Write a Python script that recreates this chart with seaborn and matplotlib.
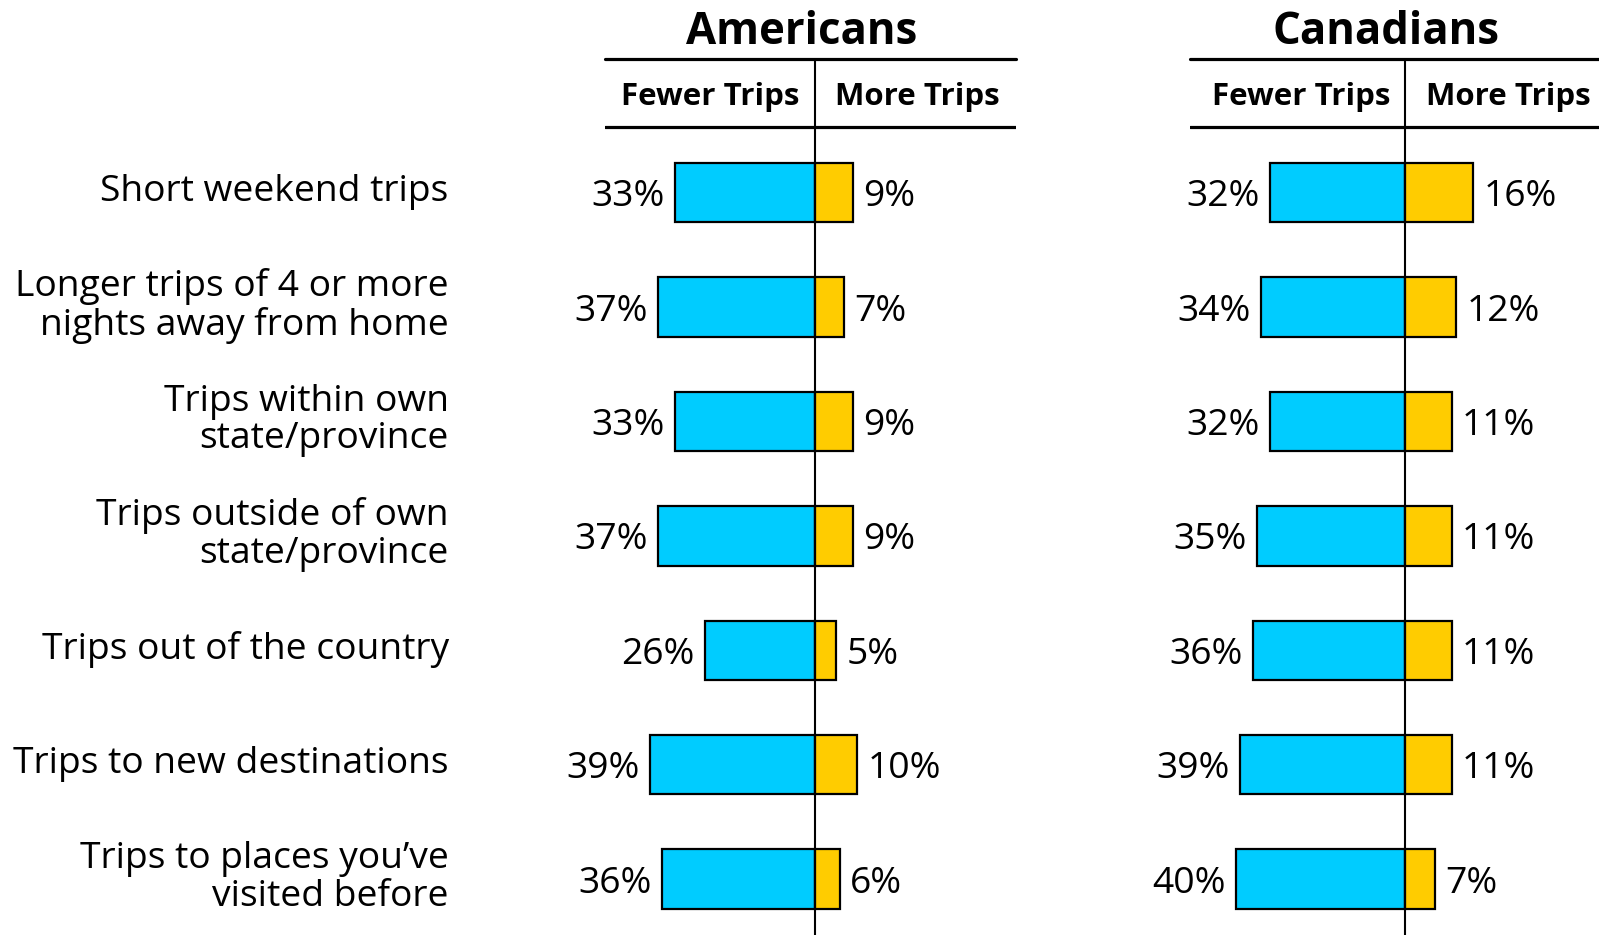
import pandas as pd
import matplotlib.pyplot as plt
import seaborn as sns

categories = [
    'Short weekend trips',
    'Longer trips of 4 or more\nnights away from home',
    'Trips within own\nstate/province',
    'Trips outside of own\nstate/province',
    'Trips out of the country',
    'Trips to new destinations',
    'Trips to places you\u2019ve\nvisited before',
]
us_fewer = [33, 37, 33, 37, 26, 39, 36]
us_more = [9, 7, 9, 9, 5, 10, 6]
ca_fewer = [32, 34, 32, 35, 36, 39, 40]
ca_more = [16, 12, 11, 11, 11, 11, 7]

panels = [('Americans', us_fewer, us_more), ('Canadians', ca_fewer, ca_more)]

CYAN = '#00CCFF'
GOLD = '#FFCC00'
FONT = 'Open Sans'

sns.set_style('white')
plt.rcParams['font.family'] = [FONT, 'DejaVu Sans']
plt.rcParams['text.color'] = 'black'

W, H = 1599, 935
fig = plt.figure(figsize=(W / 100, H / 100), dpi=100)

px_per_pct = 4.235
row_gap = 114.4
row0 = 192.7
top_px = 58.1
centers = [814.8, 1405.3]
spans = [(604.7, 1015.7), (1190.1, 1599.0)]

ylim_top = -(row0 - top_px) / row_gap
ylim_bot = (H - row0) / row_gap

for k, (name, fewer, more) in enumerate(panels):
    left_px, right_px = spans[k]
    ax = fig.add_axes([left_px / W, 0, (right_px - left_px) / W, (H - top_px) / H])
    xmin = (left_px - centers[k]) / px_per_pct
    xmax = (right_px - centers[k]) / px_per_pct

    df = pd.DataFrame({'cat': categories, 'fewer': [-v for v in fewer], 'more': more})
    sns.barplot(data=df, y='cat', x='fewer', color=CYAN, saturation=1, width=0.52,
                edgecolor='black', linewidth=1.6, ax=ax, orient='h')
    sns.barplot(data=df, y='cat', x='more', color=GOLD, saturation=1, width=0.52,
                edgecolor='black', linewidth=1.6, ax=ax, orient='h')

    ax.set_xlim(xmin, xmax)
    ax.set_ylim(ylim_bot, ylim_top)
    ax.axis('off')
    ax.axvline(0, color='black', lw=1.5, zorder=5)

    for i in range(len(categories)):
        ax.text(-fewer[i] - 2.4, i + 0.04, f'{fewer[i]}%', ha='right', va='center', fontsize=26.8)
        ax.text(more[i] + 2.4, i + 0.04, f'{more[i]}%', ha='left', va='center', fontsize=26.8)

    hdr_y = -(row0 - 126.5) / row_gap
    ax.axhline(ylim_top + 0.005, color='black', lw=2.3, clip_on=False)
    ax.axhline(hdr_y, color='black', lw=2.3)
    ax.text(-24.6, -(row0 - 96.5) / row_gap, 'Fewer Trips', ha='center', va='center',
            fontsize=22.5, fontweight='bold')
    ax.text(24.3, -(row0 - 96.5) / row_gap, 'More Trips', ha='center', va='center',
            fontsize=22.5, fontweight='bold')
    ax.text((xmin + xmax) / 2 - 2, -(row0 - 32.0) / row_gap, name, ha='center', va='center',
            fontsize=31.5, fontweight='bold', clip_on=False)

    if k == 0:
        label_x = (448.7 - centers[0]) / px_per_pct
        for i, cat in enumerate(categories):
            ax.text(label_x, i - 0.01, cat, ha='right', va='center', fontsize=26.8,
                    linespacing=1.06, clip_on=False)

plt.savefig('out.png', dpi=100)
plt.close()
